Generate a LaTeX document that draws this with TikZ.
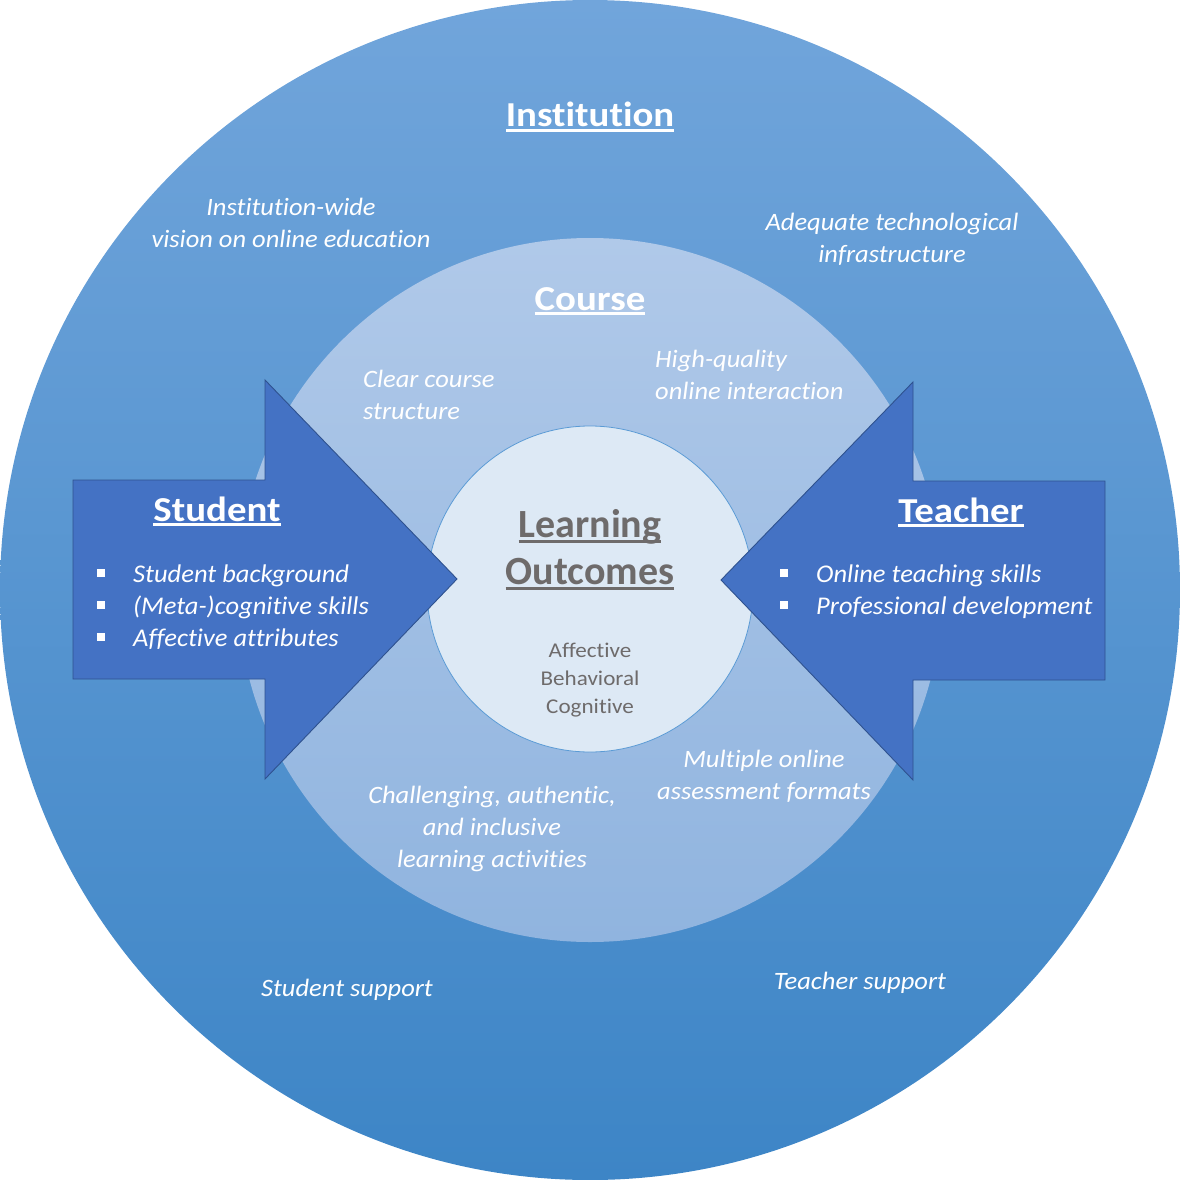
\documentclass[tikz,border=0pt]{standalone}
\usepackage{fontspec}
\setmainfont{Carlito}[Ligatures=NoCommon]
\newfontfamily\titlefont[FakeStretch=1.11,Ligatures=NoCommon]{Carlito}
\newfontfamily\itfont[FakeStretch=1.06,Ligatures=NoCommon]{Carlito}
\newfontfamily\bulfont[FakeStretch=1.04,Ligatures=NoCommon]{Carlito}
\newfontfamily\dimfont[FakeStretch=1.1,Ligatures=NoCommon]{Carlito}
\definecolor{outerTop}{HTML}{71A5DB}
\definecolor{outerBot}{HTML}{3D85C6}
\definecolor{midTop}{HTML}{B0C9E9}
\definecolor{midBot}{HTML}{90B4DF}
\definecolor{innerFill}{HTML}{DDE9F5}
\definecolor{innerLine}{HTML}{5B9BD5}
\definecolor{arrowFill}{HTML}{4472C4}
\definecolor{arrowLine}{HTML}{2F528F}
\definecolor{greyText}{HTML}{6E6B6B}
\newcommand\ulx[1]{\setbox0\hbox{#1}\rlap{\rule[-0.14em]{\wd0}{0.075em}}\box0}
\begin{document}
\begin{tikzpicture}[x=1pt,y=-1pt,
  titlelbl/.style={text=white, font=\titlefont\fontsize{35}{42}\selectfont\bfseries, inner sep=0, anchor=base},
  lolbl/.style={text=greyText, font=\fontsize{40}{48}\selectfont\bfseries, inner sep=0, anchor=base},
  italbl/.style={text=white, font=\itfont\fontsize{25}{32}\selectfont\itshape, align=center, inner sep=0},
  bulletlbl/.style={text=white, font=\bulfont\fontsize{25.5}{32}\selectfont\itshape, inner sep=0, anchor=base west},
  dimlbl/.style={text=greyText, font=\dimfont\fontsize{21}{28}\selectfont, align=center, inner sep=0},
  bulletsq/.style={fill=white, draw=none, minimum size=8pt, inner sep=0, shape=rectangle},
  arrowshape/.style={fill=arrowFill, draw=arrowLine, line width=0.9pt, line join=miter}]
\useasboundingbox (0,0) rectangle (1180,1180);
% circles
\shade[top color=outerTop, bottom color=outerBot] (590,590) circle (590);
\shade[top color=midTop, bottom color=midBot] (590,590) circle (352);
\draw[fill=innerFill, draw=innerLine, line width=0.8pt] (590,589) circle (163);
% arrows
\draw[arrowshape] (73,480) -- (265,480) -- (265,380) -- (457,579) -- (265,779) -- (265,679) -- (73,679) -- cycle;
\draw[arrowshape] (1105,481) -- (913,481) -- (913,382) -- (721,580) -- (913,780) -- (913,680) -- (1105,680) -- cycle;
% titles
\node[titlelbl] (inst) at (590,127) {\ulx{Institution}};
\node[titlelbl] (course) at (590,310) {\ulx{Course}};
\node[titlelbl] (student) at (217,521) {\ulx{Student}};
\node[titlelbl] (teacher) at (961,522) {\ulx{Teacher}};
\node[lolbl] (learning) at (590,537) {\ulx{Learning}};
\node[lolbl] (outcomes) at (590,584) {\ulx{Outcomes}};
\node[dimlbl] (dims) at (590,680) {Affective\\Behavioral\\Cognitive};
% institution labels
\node[italbl] (vision) at (291,223) {Institution-wide\\vision on online education};
\node[italbl] (infra) at (892,239) {Adequate technological\\infrastructure};
\node[italbl] (ssupport) at (347,990) {Student support};
\node[italbl] (tsupport) at (860,983) {Teacher support};
% course labels
\node[italbl, align=left, anchor=west] (structure) at (363,395) {Clear course\\structure};
\node[italbl, align=left, anchor=west] (interaction) at (655,375) {High-quality\\online interaction};
\node[italbl] (assess) at (764,776) {Multiple online\\assessment formats};
\node[italbl] (activities) at (492,829) {Challenging, authentic,\\and inclusive\\learning activities};
% student bullets
\node[bulletsq] (sb1) at (101,573) {};
\node[bulletsq] (sb2) at (101,605) {};
\node[bulletsq] (sb3) at (101,637) {};
\node[bulletlbl] (st1) at (133,582) {Student background};
\node[bulletlbl] (st2) at (133,614) {(Meta-)cognitive skills};
\node[bulletlbl] (st3) at (133,646) {Affective attributes};
% teacher bullets
\node[bulletsq] (tb1) at (784,573) {};
\node[bulletsq] (tb2) at (784,605) {};
\node[bulletlbl] (tt1) at (816,582) {Online teaching skills};
\node[bulletlbl] (tt2) at (816,614) {Professional development};
\end{tikzpicture}
\end{document}
